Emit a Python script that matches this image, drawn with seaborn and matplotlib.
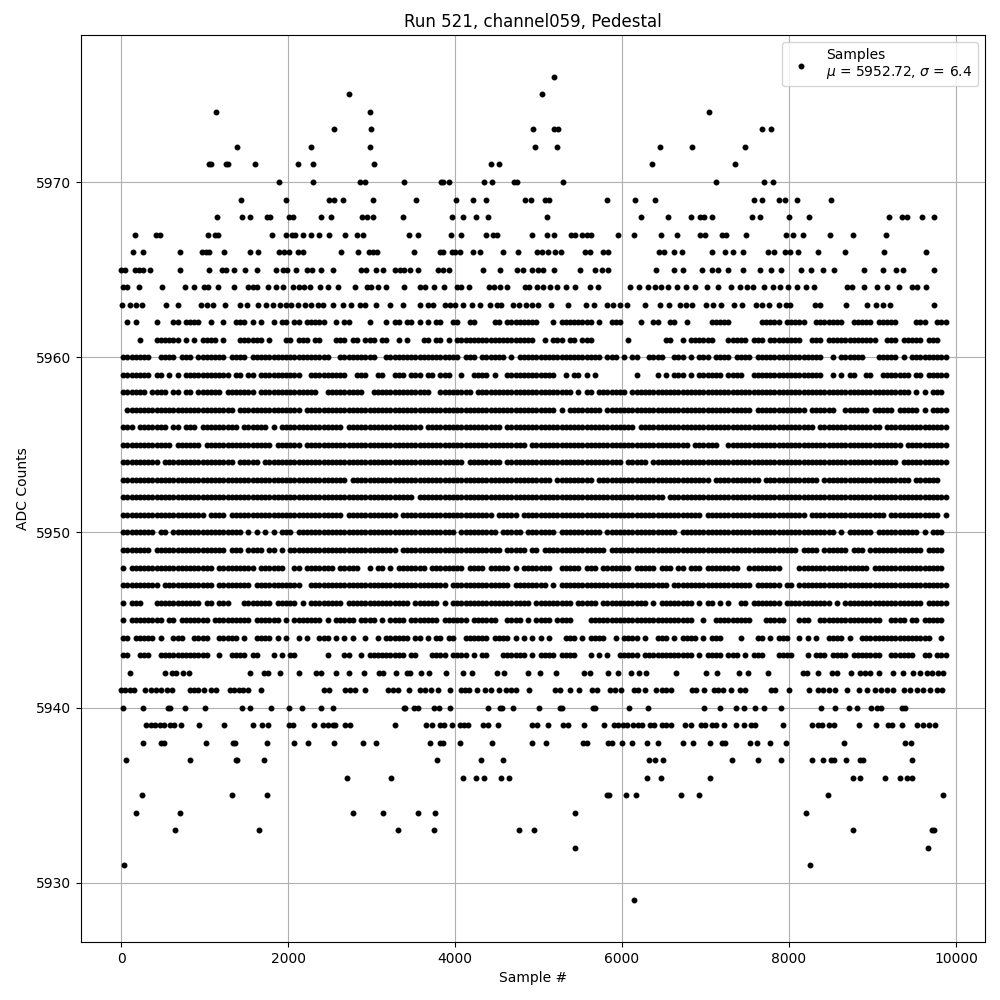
#!/usr/bin/env python3
import numpy as np
import pandas as pd
import matplotlib
matplotlib.use("Agg")
import matplotlib.pyplot as plt
import seaborn as sns

# Sample numbers, one list per ADC level (sparse levels)
level_5976 = [5188]
level_5975 = [2732, 5044]
level_5974 = [1136, 2984, 7040]
level_5973 = [2552, 2996, 4936, 5188, 5236, 7676, 7784]
level_5972 = [1388, 2276, 2984, 4960, 5224, 6460, 6844, 7472]
level_5971 = [1048, 1076, 1252, 1284, 1604, 2120, 2300, 3032, 4432, 4528, 6364, 7352]
level_5970 = [1892, 2300, 2860, 2924, 3392, 3832, 3856, 3928, 4348, 4444, 4708, 4736, 5296, 7124, 7700, 7808]
level_5969 = [1436, 1976, 2492, 2552, 2660, 3020, 3532, 4012, 4216, 4372, 4840, 4912, 5080, 5128, 5824, 6160,
              6400, 7580, 7676, 7880, 7952, 8096, 8504]
level_5968 = [1148, 1448, 1544, 1748, 1788, 2012, 2060, 2396, 2516, 2888, 2940, 3020, 3380, 3964, 4096, 4252,
              4396, 5104, 6232, 6556, 6832, 6928, 6976, 7076, 7556, 7652, 8000, 8240, 9200, 9356, 9416, 9596, 9740]
level_5967 = [164, 420, 468, 1044, 1124, 1164, 1808, 1976, 2048, 2084, 2180, 2276, 2372, 2492, 2684, 2828, 2900,
              3452, 3556, 3956, 4072, 4376, 4456, 4508, 4924, 5104, 5188, 5392, 5440, 5524, 5584, 5632, 5956,
              6148, 6472, 6664, 6932, 6992, 7192, 7244, 7484, 7964, 8048, 8168, 8492, 8768, 9164]
level_5966 = [140, 260, 704, 964, 1012, 1052, 1232, 1544, 1640, 1892, 1952, 2012, 2120, 2180, 2636, 2840, 2972,
              3020, 3068, 3508, 3820, 3856, 3964, 4000, 4060, 4216, 4300, 4576, 4756, 4984, 5044, 5116, 5200,
              5264, 5560, 5620, 5776, 5836, 6448, 6508, 6628, 6724, 7076, 7232, 7328, 7448, 7748, 7820, 7952,
              8012, 8108, 8348, 8672, 9140, 9644]
level_5965 = [4, 44, 164, 212, 260, 344, 704, 1052, 1208, 1260, 1352, 1488, 1628, 1856, 1940, 1988, 2096, 2228,
              2284, 2396, 2540, 2876, 2932, 3056, 3140, 3284, 3344, 3392, 3464, 3556, 3796, 3856, 3928, 4336,
              4540, 4744, 4816, 4924, 4996, 5056, 5188, 5500, 5680, 5764, 5836, 6412, 6628, 6736, 6956, 7076,
              7148, 7268, 7448, 7652, 7780, 7904, 8148, 8264, 8408, 8540, 8900, 9128, 9280, 9368, 9740]
level_5964 = [20, 68, 212, 488, 764, 872, 988, 1040, 1160, 1348, 1520, 1580, 1628, 1760, 1856, 1940, 2060, 2132,
              2192, 2260, 2384, 2480, 2600, 2804, 2940, 2996, 3080, 3176, 3392, 3576, 3636, 3748, 3868, 4024,
              4072, 4168, 4408, 4468, 4536, 4624, 4836, 4888, 4984, 5056, 5136, 5224, 5328, 5440, 5620, 5716,
              6100, 6208, 6316, 6400, 6472, 6556, 6656, 6768, 6876, 7020, 7148, 7304, 7412, 7496, 7568, 7700,
              7808, 7888, 7988, 8096, 8208, 8300, 8696, 8756, 8900, 9056, 9176, 9320, 9476, 9536, 9644]
level_5963 = [8, 104, 176, 248, 536, 680, 956, 1028, 1100, 1240, 1420, 1508, 1640, 1740, 1820, 1900, 1980, 2040,
              2120, 2200, 2280, 2360, 2420, 2540, 2660, 2756, 2860, 2920, 3056, 3224, 3380, 3580, 3676, 3736,
              3876, 3936, 3996, 4096, 4208, 4304, 4416, 4504, 4556, 4696, 4768, 4848, 4916, 4996, 5144, 5356,
              5572, 5668, 5816, 5896, 5976, 6056, 6280, 6452, 6568, 6696, 6768, 6836, 7008, 7088, 7188, 7340,
              7436, 7600, 7680, 7760, 7880, 7968, 8008, 8308, 8376, 8688, 8936, 9048, 9128, 9208, 9740]
level_5942 = [104, 524, 608, 656, 740, 812, 1544, 1712, 1760, 1904, 2132, 2332, 2396, 2576, 2732, 2912, 3092, 3132,
              3296, 3420, 3456, 3592, 3688, 3892, 4096, 4204, 4504, 4588, 4876, 5020, 5212, 5548, 5620, 5836,
              5956, 6112, 6208, 6292, 6652, 7004, 7136, 7400, 7508, 7748, 8168, 8216, 8348, 8516, 8576, 8744,
              8856, 8916, 8976, 9080, 9248, 9368, 9488, 9568, 9648, 9708, 9788, 9848]
level_5941 = [4, 44, 108, 156, 284, 356, 416, 476, 548, 608, 824, 872, 916, 996, 1076, 1136, 1304, 1352, 1412, 1460,
              1520, 1676, 2432, 2492, 2684, 2744, 2804, 2924, 3200, 3260, 3320, 3448, 3580, 3640, 3712, 3796,
              3940, 4072, 4120, 4168, 4264, 4360, 4432, 4528, 4612, 4672, 4732, 4888, 5200, 5260, 5380, 5488,
              5644, 5704, 5860, 5920, 5992, 6148, 6188, 6280, 6412, 6484, 6532, 6592, 6844, 6892, 6980, 7100,
              7148, 7208, 7304, 7412, 7472, 7788, 7836, 8000, 8240, 8348, 8408, 8480, 8552, 8696, 8840, 8936,
              9032, 9104, 9176, 9248, 9376, 9448, 9528, 9608, 9688, 9768, 9828]
level_5940 = [20, 260, 560, 584, 764, 1004, 1448, 1544, 1796, 2012, 2168, 2396, 2540, 3392, 3404, 3508, 3556, 3748,
              3808, 3940, 4396, 4540, 4564, 4696, 5008, 5260, 5284, 5656, 5680, 6088, 6316, 6980, 7172, 7364,
              7460, 7592, 7700, 7904, 8384, 8552, 8720, 8816, 8984, 9056, 9104, 9352, 9384]
level_5939 = [300, 360, 404, 468, 512, 588, 632, 716, 932, 1232, 1580, 1688, 1760, 2012, 2060, 2312, 2420, 2480,
              2540, 2564, 2684, 2744, 3284, 3656, 3724, 3820, 3868, 3964, 4060, 4108, 4156, 4336, 4396, 4516,
              4924, 4984, 5116, 5296, 5356, 5548, 5788, 5908, 5956, 6016, 6064, 6136, 6192, 6244, 6336, 6388,
              6484, 6532, 6592, 6760, 6832, 6940, 6988, 7076, 7124, 7220, 7364, 7460, 7544, 7592, 7928, 8276,
              8348, 8396, 8480, 8540, 8840, 9044, 9188, 9232, 9356, 9536, 9608, 9680, 9752]
level_5938 = [260, 476, 512, 1016, 1340, 1364, 1748, 2072, 2240, 2552, 2900, 3056, 3700, 3820, 3856, 4060, 4444,
              4924, 5092, 5536, 5584, 5836, 5884, 6004, 6124, 6304, 6436, 6736, 6856, 7052, 7196, 7232, 7532,
              7616, 7772, 7964, 8660, 9392, 9464]
level_5937 = [56, 824, 1376, 1388, 1712, 3784, 4312, 4576, 6328, 6400, 6496, 7316, 7628, 7904, 8276, 8408, 8504,
              8540, 8684, 8852, 8888, 9476]
level_5936 = [2708, 3236, 4096, 4252, 4348, 4552, 4648, 6304, 6472, 7052, 8768, 8852, 9152, 9332, 9416, 9476]
level_5935 = [248, 1328, 1748, 5824, 5840, 6052, 6172, 6712, 6920, 8468, 9848]
level_5934 = [176, 704, 2780, 3140, 3556, 3760, 5440, 8204]
level_5933 = [644, 1652, 3320, 3748, 4768, 4948, 8768, 9716, 9732]
level_5932 = [5440, 9668]
level_5931 = [32, 8252]
level_5929 = [6148]

# Dense levels: one character per 50 samples, # = a dot is there
mask_5962 = ".#.#....#. ..##.####. .#..#..### .#.#..#.## .##.#####. .#.##....# ...#.##.## .#.#.##..# #..##....# #.######## ...#.##### ###.#..### ....#..##. .##..#.... .#####.... ...#####.# ####..#### ###..##### .#####.... ###..###"
mask_5961 = "....#...## ####.#.#.# ###.#...## ####.#...# #.###.##.. .###.##.## #.##..#.#. ..##.##.#. ########## #########. .#.###.##. ###....... .#........ ##..#.#### ##...##### .###.##### ###..###.# ########## #..###.### ##.###"
mask_5960 = "#######..# ###.###.## #####.#### .######### ########## ..######## #..####### ########## #.###.#### ##.#.##### ########## #####.###. #.##..#### ..###.#.## #.####.### #.######## ########.. #.######.. .#####.#.# ########"
mask_5959 = "#######.## .#.#.##### ######.##. ##.####### ###..##### ####..###. .##..###.# ##.##.###. .#..####.# ..######## ####..#.## .#.#...... ...#....#. #.###.#.## ####.####. .######### ########.. #.#.##..## ..#######. ##.#####"
mask_5958 = "######.### #.##.##.## ####.##### ##.####### #######..# ########.. ########## ####..#### ####.##### ########## ########.# .##.###### #.######## ########## ########## ########## ########## ########## #########. #.#.###"
mask_5957 = ".######### ########## #######.## ########## ###.###### ########## ########## ########## ########## ########## ####.#.### #####.#### ########## ########## ########## #.######## ####.##### #..######. #####.#### #.#.####"
mask_5956 = "###.###### #.##.###.# ########.# #####.#.## ########## ###.###### ########## ##.####### ########## #.######## ########## ########## ###.###### ########## ########## ########## ######.### ########## ##.####### ########"
mask_5955 = "########## ##.######. ########## ######.### ###.###### ########## ########## ########## ########## #######.## ########## ########## ########## ######.### ###..##### ########## ########## ########## #######.## ########"
mask_5954 = "#########. ########## #######.## ###.###### ########## ########## ########## ########## ##.####### #.######## ########## ########## .#####.### ########## ########## ########## ########## ########## ######.### ########"
mask_5953 = "########## ########## ########## ########## ########## ####.##### ########## ########## ########## ########## ###.###### ###.###### ########## ########## #.######## ###.###### #######.## ########## #########. ######"
mask_5952 = "########## ########## ########## ########## ########## ########## ########## .######### ########## ########## ########## ########## ########## .######### ########## ########## ########## ########## ########## ########"
mask_5951 = "########## ########## .####.#### ########## ########## ###.###### ######.### ########## #########. #####.#### ########## ########## ########## #########. ########## ########## ####.##### ########## ###.###### ######.#"
mask_5950 = "########.# #.######## #########. #.#.#.#.## #.######## ########## ########## ########## .######### .#####.### ####.##### #####.#### ########## ###.###### ########## ########## ########## #.#.###### .######### #.#.###"
mask_5949 = "#######.## ########## #####.###. ####.##.#. ########## ########## ######.### ########## ########## #.#####.## .######### ######.### ########## ########## ########## ########## ##.####.## ####.###.# ########## ##.####"
mask_5948 = "#.######## ########## ##.####### ##.######. .##.###### #.#####..# .##.#.#### ###.###### ##.####.## ###.#.#### ###..##### .###.##### ##.#####.# ##.##.###. ########.. ########.. ..######## #########. ########## #######"
mask_5947 = "#########. ########## ##.####### #.######## ###..##### ########## ########## ########.# ########## ###.###### ##.#.##### ########## ########## #.######## ########## #.######.# #.######## ########## ########## ########"
mask_5946 = "#.###...## #########. ##.###...# ######.### ##.#.##### ###.###### #########. ######.#.# ########## ########.# ########.# ####.##### ######.#.# #######.#. ##.#.#..## .#######.# ########## .#.####### ########## ##.#####"
mask_5945 = "#.######## .##.###### #.######## #.######.# .#######.# .#####.### #.#.####.# ######.### ###.###### ..####.#.# ###.####.. ..######## ########## #######..# ..######## #...#####. ..###..### ########## ##..####.# #.#####"
mask_5944 = "##.#####.# ..###..### #..#####.# ..####.#.# ..#.#..### .#.#.#..#. .#.######. ##.#.##.## ..######.# ###.#.#.#. #.#...###. #.####..#. ####.#..## #.#.####.# .###....#. ..##.#.### ..#.#.#..# ###.#..### ########## ####..#"
mask_5943 = "##..###..# ########## #..#..#### .##...#.#. ##.......# ...##..#.# ########.# #...####.# ###.#.##.. .######.#. ####.####. ..#.#.#..# ####.##### #######.#. ####.###.# .###...### #...#.###. ####.##### ##..###### ..##.###"

sparse_levels = {
    5976: level_5976, 5975: level_5975, 5974: level_5974, 5973: level_5973, 5972: level_5972,
    5971: level_5971, 5970: level_5970, 5969: level_5969, 5968: level_5968, 5967: level_5967,
    5966: level_5966, 5965: level_5965, 5964: level_5964, 5963: level_5963, 5942: level_5942,
    5941: level_5941, 5940: level_5940, 5939: level_5939, 5938: level_5938, 5937: level_5937,
    5936: level_5936, 5935: level_5935, 5934: level_5934, 5933: level_5933, 5932: level_5932,
    5931: level_5931, 5929: level_5929,
}
dense_levels = {
    5962: mask_5962, 5961: mask_5961, 5960: mask_5960, 5959: mask_5959, 5958: mask_5958,
    5957: mask_5957, 5956: mask_5956, 5955: mask_5955, 5954: mask_5954, 5953: mask_5953,
    5952: mask_5952, 5951: mask_5951, 5950: mask_5950, 5949: mask_5949, 5948: mask_5948,
    5947: mask_5947, 5946: mask_5946, 5945: mask_5945, 5944: mask_5944, 5943: mask_5943,
}

rows = []
for level, samples in sparse_levels.items():
    rows += [(s, level) for s in samples]
for level, mask in dense_levels.items():
    cells = np.array(list(mask.replace(" ", "")))
    rows += [(i * 50 + 25, level) for i in np.flatnonzero(cells == "#")]
df = pd.DataFrame(rows, columns=["sample", "adc"])

fig, ax = plt.subplots(figsize=(10, 10), dpi=100)
sns.scatterplot(data=df, x="sample", y="adc", ax=ax, color="k", marker=".", s=42,
                edgecolor="k", linewidth=1, zorder=2,
                label="Samples\n$\\mu$ = 5952.72, $\\sigma$ = 6.4")
ax.set_xlim(-487, 10348)
ax.set_ylim(5926.63, 5978.39)
ax.set_xticks([0, 2000, 4000, 6000, 8000, 10000])
ax.set_yticks([5930, 5940, 5950, 5960, 5970])
ax.ticklabel_format(useOffset=False, style="plain", axis="y")
ax.set_title("Run 521, channel059, Pedestal")
ax.set_xlabel("Sample #")
ax.set_ylabel("ADC Counts")
ax.grid(True)
ax.legend(loc="upper right")
fig.subplots_adjust(left=0.0805, right=0.985, top=0.965, bottom=0.058)
plt.savefig("out.png")
plt.close()
